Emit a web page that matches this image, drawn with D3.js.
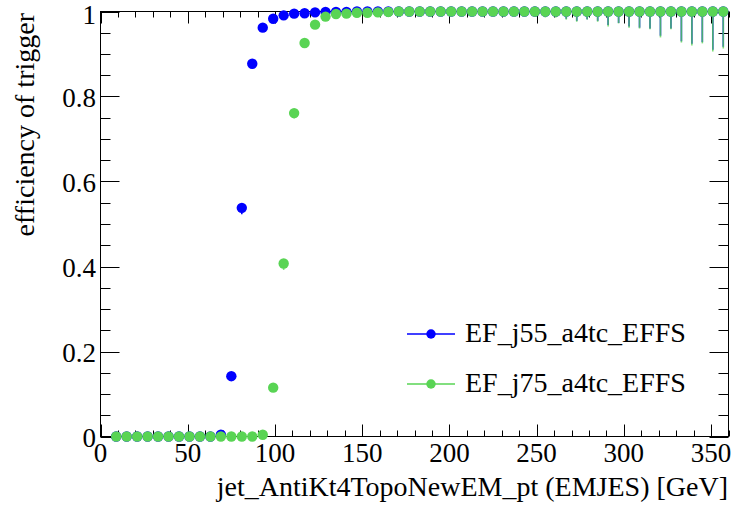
<!DOCTYPE html>
<html>
<head>
<meta charset="utf-8">
<script src="https://cdn.jsdelivr.net/npm/d3@7"></script>
<style>
  html, body { margin: 0; padding: 0; background: #fff; }
  svg { display: block; }
  text { font-family: "Liberation Serif", "Times New Roman", serif; fill: #000; }
</style>
</head>
<body>
<svg id="chart" width="732" height="507"></svg>
<script>
// ---- data ----
const binCenters = [9,15,21,27,33,39,45,51,57,63,69,75,81,87,93,99,105,111,117,123,129,135,141,147,153,159,165,171,177,183,189,195,201,207,213,219,225,231,237,243,249,255,261,267,273,279,285,291,297,303,309,315,321,327,333,339,345,351,357];

const effJ55 = [0,0,0,0,0,0,0,0,0,0,0.004,0.142,0.538,0.877,0.962,0.983,0.991,0.995,0.996,0.998,0.999,0.999,0.999,1,1,1,1,1,1,1,1,1,1,1,1,1,1,1,1,1,1,1,1,1,1,1,1,1,1,1,1,1,1,1,1,1,1,1,1];
const errLowJ55 = [0,0,0,0,0,0,0,0,0,0,0.003,0.012,0.015,0.011,0.007,0.005,0.003,0.003,0.003,0.002,0.002,0.002,0.002,0.002,0.003,0.003,0.003,0.003,0.004,0.004,0.004,0.005,0.005,0.005,0.006,0.006,0.007,0.008,0.010,0.009,0.011,0.012,0.013,0.017,0.022,0.018,0.022,0.032,0.027,0.035,0.038,0.040,0.057,0.040,0.070,0.076,0.072,0.090,0.083];

const effJ75 = [0,0,0,0,0,0,0,0,0,0,0,0,0,0,0.004,0.115,0.407,0.761,0.926,0.969,0.988,0.994,0.995,0.997,0.997,0.998,0.999,1,1,1,1,1,1,1,1,1,1,1,1,1,1,1,1,1,1,1,1,1,1,1,1,1,1,1,1,1,1,1,1];
const errLowJ75 = [0,0,0,0,0,0,0,0,0,0,0,0,0,0,0.004,0.010,0.015,0.013,0.009,0.006,0.004,0.003,0.003,0.003,0.003,0.003,0.003,0.003,0.004,0.004,0.004,0.005,0.005,0.006,0.006,0.007,0.008,0.009,0.012,0.010,0.012,0.014,0.014,0.019,0.024,0.019,0.024,0.035,0.028,0.038,0.040,0.042,0.061,0.042,0.073,0.080,0.075,0.094,0.087];

const seriesNames = ["EF_j55_a4tc_EFFS", "EF_j75_a4tc_EFFS"];
const seriesColors = ["#0000ff", "#59d454"];
const xTickValues = [0,50,100,150,200,250,300,350];
const yTickValues = [0,0.2,0.4,0.6,0.8,1];
const yTickLabels = ["0","0.2","0.4","0.6","0.8","1"];
const xTitle = "jet_AntiKt4TopoNewEM_pt (EMJES) [GeV]";
const yTitle = "efficiency of trigger";

// ---- layout ----
const L = 100.5, R = 728.5, T = 11.5, B = 436.5;
const svg = d3.select("#chart");
const x = d3.scaleLinear().domain([0, 360]).range([L, R]);
const y = d3.scaleLinear().domain([0, 1]).range([B, T]);

const FS = 27;

// frame
svg.append("rect").attr("x", L).attr("y", T).attr("width", R - L).attr("height", B - T)
  .attr("fill", "none").attr("stroke", "#000").attr("stroke-width", 1);

// ticks
const xMinor = d3.range(0, 361, 10);
const yMinor = d3.range(0, 1.0001, 0.05);
const g = svg.append("g").attr("stroke", "#000").attr("stroke-width", 1);
xMinor.forEach(v => {
  const major = Math.abs(v % 50) < 1e-6;
  const len = major ? 12 : 6;
  const px = Math.round(x(v)) + 0.5;
  g.append("line").attr("x1", px).attr("x2", px).attr("y1", B).attr("y2", B - len);
  g.append("line").attr("x1", px).attr("x2", px).attr("y1", T).attr("y2", T + len);
});
yMinor.forEach(v => {
  const major = Math.abs((v * 100) % 20) < 1e-6 || Math.abs((v * 100) % 20 - 20) < 1e-6;
  const len = major ? 19 : 10;
  const py = Math.round(y(v)) + 0.5;
  g.append("line").attr("y1", py).attr("y2", py).attr("x1", L).attr("x2", L + len);
  g.append("line").attr("y1", py).attr("y2", py).attr("x1", R).attr("x2", R - len);
});

// tick labels
svg.append("g").selectAll("text").data(xTickValues).join("text")
  .attr("x", d => x(d)).attr("y", 462).attr("text-anchor", "middle")
  .attr("font-size", FS).text(d => d);
svg.append("g").selectAll("text").data(yTickValues).join("text")
  .attr("x", 96).attr("y", d => y(d) + (d === 1 ? 3 : 1)).attr("dy", "0.35em").attr("text-anchor", "end")
  .attr("font-size", FS).text((d, i) => yTickLabels[i]);

// titles
svg.append("text").attr("x", 728).attr("y", 496).attr("text-anchor", "end")
  .attr("font-size", 28).text(xTitle);
svg.append("text").attr("transform", "translate(34,13) rotate(-90)").attr("text-anchor", "end")
  .attr("font-size", 28).text(yTitle);

// data series
const series = [
  { name: seriesNames[0], color: seriesColors[0], eff: effJ55, err: errLowJ55, op: 1 },
  { name: seriesNames[1], color: seriesColors[1], eff: effJ75, err: errLowJ75, op: 0.8 }
];
const R_M = 5.2;
series.forEach(s => {
  const pts = binCenters.map((c, i) => ({ c, v: s.eff[i], e: s.err[i] }));
  svg.append("g").selectAll("line").data(pts.filter(p => p.e > 0)).join("line")
    .attr("x1", p => x(p.c)).attr("x2", p => x(p.c))
    .attr("y1", p => y(p.v)).attr("y2", p => y(p.v - p.e))
    .attr("stroke", s.color).attr("stroke-width", 1.6).attr("stroke-opacity", s.op);
  svg.append("g").selectAll("circle").data(pts).join("circle")
    .attr("cx", p => x(p.c)).attr("cy", p => y(p.v)).attr("r", R_M)
    .attr("fill", s.color);
});

// legend
const legY = [334, 384];
series.forEach((s, i) => {
  const lg = svg.append("g");
  lg.append("line").attr("x1", 407).attr("x2", 455).attr("y1", legY[i]).attr("y2", legY[i])
    .attr("stroke", s.color).attr("stroke-width", 1.5);
  lg.append("circle").attr("cx", 431).attr("cy", legY[i]).attr("r", 4.7).attr("fill", s.color);
  lg.append("text").attr("x", 465).attr("y", legY[i] + 8).attr("font-size", 28).text(s.name);
});
</script>
</body>
</html>
